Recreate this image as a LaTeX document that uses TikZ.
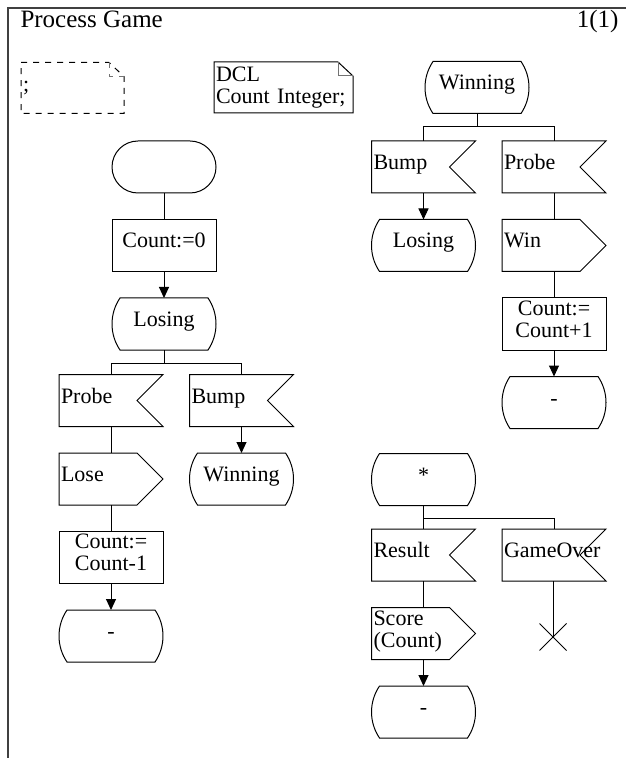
\documentclass[tikz,border=0pt]{standalone}
\usepackage{fontspec}
\setmainfont{Liberation Serif}
\usepackage{tikz}
\usetikzlibrary{arrows.meta, positioning, shapes.misc}
\newcommand{\sdlfont}{\fontsize{11}{11}\selectfont}
\newcommand{\hdrfont}{\fontsize{12.5}{13}\selectfont}
\newcommand{\sdltop}{\rule{0pt}{7.5pt}}
\newcommand{\sdlbot}{\rule[-5pt]{0pt}{5pt}}
\tikzset{
  sdlbase/.style={rectangle, minimum width=52pt, minimum height=26pt, inner sep=1pt, outer sep=0pt, font=\sdlfont,
    execute at begin node={\sdltop}, execute at end node={\sdlbot}},
  sdlstart/.style={sdlbase, draw, rounded corners=13pt},
  sdltask/.style={sdlbase, draw, align=center},
  sdlstate/.style={sdlbase, align=center, append after command={\pgfextra{\let\sdlnd\tikzlastnode
      \draw ([xshift=4pt]\sdlnd.north west) -- ([xshift=-4pt]\sdlnd.north east)
        .. controls ([xshift=1.33pt,yshift=-7.85pt]\sdlnd.north east) and ([xshift=1.33pt,yshift=7.85pt]\sdlnd.south east) .. ([xshift=-4pt]\sdlnd.south east)
        -- ([xshift=4pt]\sdlnd.south west)
        .. controls ([xshift=-1.33pt,yshift=7.85pt]\sdlnd.south west) and ([xshift=-1.33pt,yshift=-7.85pt]\sdlnd.north west) .. ([xshift=4pt]\sdlnd.north west) -- cycle;}}},
  sdlinput/.style={sdlbase, text width=50pt, align=left, append after command={\pgfextra{\let\sdlnd\tikzlastnode
      \draw (\sdlnd.north west) -- (\sdlnd.north east) -- ([xshift=-13pt]\sdlnd.east) -- (\sdlnd.south east) -- (\sdlnd.south west) -- cycle;}}},
  sdloutput/.style={sdlbase, text width=50pt, align=left, append after command={\pgfextra{\let\sdlnd\tikzlastnode
      \draw (\sdlnd.north west) -- ([xshift=-13pt]\sdlnd.north east) -- (\sdlnd.east) -- ([xshift=-13pt]\sdlnd.south east) -- (\sdlnd.south west) -- cycle;}}},
  sdlnote/.style={rectangle, minimum height=25.5pt, inner sep=1pt, outer sep=0pt, font=\sdlfont, align=left, append after command={\pgfextra{\let\sdlnd\tikzlastnode
      \draw[#1] (\sdlnd.north west) -- ([xshift=-7.5pt]\sdlnd.north east) -- ([yshift=-7pt]\sdlnd.north east) -- (\sdlnd.south east) -- (\sdlnd.south west) -- cycle;
      \draw[#1, black!55] ([xshift=-7.5pt]\sdlnd.north east) |- ([yshift=-7pt]\sdlnd.north east);}}},
  sdlstop/.style={cross out, draw, minimum size=13pt, inner sep=0pt},
  sdlarrow/.style={-{Triangle[width=5pt,length=5.5pt]}},
}
\begin{document}
\begin{tikzpicture}[x=0.5pt, y=-0.5pt, line width=0.5pt, node distance=13.25pt]
\useasboundingbox (0,0) rectangle (626,758);
\draw[black!75, line width=0.7pt] (8,758) -- (8,8) -- (626,8);
\node[anchor=base west, inner sep=0pt, font=\hdrfont] (title) at (20,28) {Process Game};
\node[anchor=base east, inner sep=0pt, font=\hdrfont] (page) at (619,28) {1(1)};
\node[sdlnote=dashed, text width=49.5pt] (note) at (72.5,88) {;};
\node[sdlnote=solid, text width=67.5pt] (dcl) at (283.5,87.5) {DCL\\Count Integer;};

\node[sdlstart] (startL) at (164,167) {};
\node[sdltask, below=of startL] (initL) {Count:=0};
\node[sdlstate, below=of initL] (losingL) {Losing};
\node[sdlinput] (probeL) at (111,400.5) {Probe};
\node[sdlinput] (bumpL) at (241.5,400.5) {Bump};
\node[sdloutput, below=of probeL] (loseL) {Lose};
\node[sdltask, below=of loseL] (decL) {Count:=\\Count-1};
\node[sdlstate, below=of decL] (dashL) {-};
\node[sdlstate, below=of bumpL] (winningL) {Winning};

\node[sdlstate] (winningR) at (477,87.5) {Winning};
\node[sdlinput] (bumpR) at (423.5,167) {Bump};
\node[sdlinput] (probeR) at (554,167) {Probe};
\node[sdlstate, below=of bumpR] (losingR) {Losing};
\node[sdloutput, below=of probeR] (winR) {Win};
\node[sdltask, below=of winR] (incR) {Count:=\\Count+1};
\node[sdlstate, below=of incR] (dashR) {-};

\node[sdlstate] (anyR) at (423.5,479.5) {*};
\node[sdlinput] (resultR) at (423.5,555) {Result};
\node[sdlinput] (overR) at (554,555) {GameOver};
\node[sdloutput, below=of resultR] (scoreR) {Score\\(Count)};
\node[sdlstate, below=of scoreR] (dashS) {-};
\node[sdlstop] (stopR) at (553,637) {};

\coordinate (brL) at ([yshift=-6.5pt]losingL.south);
\coordinate (brR) at ([yshift=-6.5pt]winningR.south);
\coordinate (brS) at ([yshift=-6.5pt]anyR.south);

\draw (startL) -- (initL);
\draw[sdlarrow] (initL) -- (losingL);
\draw (losingL) -- (brL) -| (probeL.north);
\draw (brL) -| (bumpL.north);
\draw (probeL) -- (loseL);
\draw (loseL) -- (decL);
\draw[sdlarrow] (decL) -- (dashL);
\draw[sdlarrow] (bumpL) -- (winningL);

\draw (winningR) -- (brR) -| (bumpR.north);
\draw (brR) -| (probeR.north);
\draw[sdlarrow] (bumpR) -- (losingR);
\draw (probeR) -- (winR);
\draw (winR) -- (incR);
\draw[sdlarrow] (incR) -- (dashR);

\draw (anyR) -- (resultR);
\draw (brS) -| (overR.north);
\draw (resultR) -- (scoreR);
\draw[sdlarrow] (scoreR) -- (dashS);
\draw (overR.south -| stopR) -- (stopR.center);
\end{tikzpicture}
\end{document}
